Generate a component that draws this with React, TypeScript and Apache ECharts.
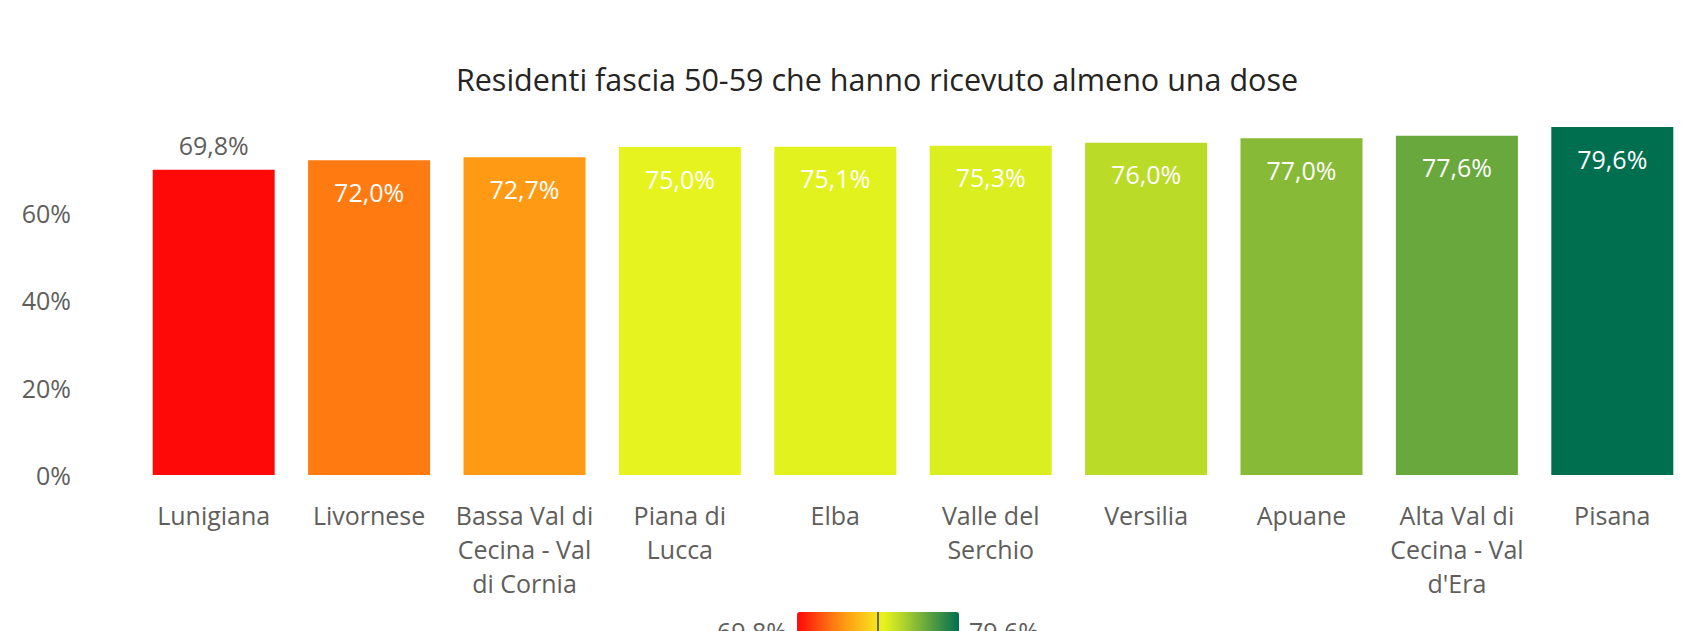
import React, { useEffect, useRef } from "react";
import * as echarts from "echarts";

const TITLE = "Residenti fascia 50-59 che hanno ricevuto almeno una dose";
const categories = [
  "Lunigiana",
  "Livornese",
  "Bassa Val di\nCecina - Val\ndi Cornia",
  "Piana di\nLucca",
  "Elba",
  "Valle del\nSerchio",
  "Versilia",
  "Apuane",
  "Alta Val di\nCecina - Val\nd'Era",
  "Pisana",
];
const values = [69.8, 72.0, 72.7, 75.0, 75.1, 75.3, 76.0, 77.0, 77.6, 79.6];
const yTicks = [0, 20, 40, 60];

// colour anchors (value -> colour)
const colorAnchors: [number, string][] = [
  [69.8, "#FF0808"],
  [72.0, "#FF7A10"],
  [72.7, "#FF9A14"],
  [74.6, "#F6E21B"],
  [75.0, "#E8F51E"],
  [75.1, "#E2F21F"],
  [75.3, "#DAEE20"],
  [76.0, "#BADB28"],
  [77.0, "#87BA37"],
  [77.6, "#68A83D"],
  [79.6, "#006F50"],
];

const FONT = "'Segoe UI', 'Open Sans', sans-serif";
const fmt = (v: number) => v.toFixed(1).replace(".", ",") + "%";

function hexToRgb(h: string) {
  const n = parseInt(h.slice(1), 16);
  return [(n >> 16) & 255, (n >> 8) & 255, n & 255];
}
function colorAt(v: number) {
  for (let i = 0; i < colorAnchors.length - 1; i++) {
    const [v0, c0] = colorAnchors[i];
    const [v1, c1] = colorAnchors[i + 1];
    if (v <= v1 || i === colorAnchors.length - 2) {
      const t = Math.max(0, Math.min(1, (v - v0) / (v1 - v0)));
      const a = hexToRgb(c0);
      const b = hexToRgb(c1);
      const r = a.map((x, k) => Math.round(x + (b[k] - x) * t));
      return `rgb(${r[0]},${r[1]},${r[2]})`;
    }
  }
  return colorAnchors[0][1];
}

export default function App() {
  const ref = useRef<HTMLDivElement>(null);
  useEffect(() => {
    document.body.style.margin = "0";
    document.body.style.overflow = "hidden";
    if (!ref.current) return;
    const chart = echarts.init(ref.current, null, { renderer: "svg" });
    const vmin = Math.min(...values);
    const vmax = Math.max(...values);
    const steps = 60;
    const stops: string[] = [];
    for (let i = 0; i <= steps; i++) stops.push(colorAt(vmin + ((vmax - vmin) * i) / steps));

    chart.setOption({
      animation: false,
      textStyle: { fontFamily: FONT },
      title: {
        text: TITLE,
        left: 872,
        top: 55,
        textAlign: "center",
        textStyle: {
          fontFamily: FONT,
          fontSize: 30.5,
          fontWeight: "normal",
          color: "#252423",
          lineHeight: 38,
        },
      },
      grid: { left: 136, right: 0, top: 127, bottom: 156, containLabel: false },
      xAxis: {
        type: "category",
        data: categories,
        axisLine: { show: false },
        axisTick: { show: false },
        axisLabel: {
          color: "#605E5C",
          fontFamily: FONT,
          fontSize: 25,
          lineHeight: 34,
          margin: 23,
          interval: 0,
        },
      },
      yAxis: {
        type: "value",
        min: 0,
        max: vmax,
        interval: 20,
        axisLine: { show: false },
        axisTick: { show: false },
        splitLine: { show: false },
        axisLabel: {
          color: "#605E5C",
          fontFamily: FONT,
          fontSize: 25,
          margin: 65,
          showMaxLabel: false,
          formatter: (v: number) => (yTicks.includes(v) ? v + "%" : ""),
        },
      },
      visualMap: {
        type: "continuous",
        min: vmin,
        max: vmax,
        orient: "horizontal",
        left: 702,
        top: 597,
        itemWidth: 37,
        itemHeight: 162,
        calculable: false,
        text: [fmt(vmax), fmt(vmin)],
        textGap: 10,
        textStyle: { color: "#605E5C", fontFamily: FONT, fontSize: 25 },
        inRange: { color: stops },
        seriesIndex: 0,
      },
      graphic: [
        {
          type: "line",
          shape: { x1: 878, y1: 612, x2: 878, y2: 640 },
          style: { stroke: "#666666", lineWidth: 2 },
          z: 100,
        },
      ],
      series: [
        {
          type: "bar",
          barWidth: 122,
          data: values.map((v) => ({
            value: v,
            label:
              v < 70
                ? { position: "top", distance: 12, color: "#605E5C" }
                : { position: "insideTop", distance: 19, color: "#FFFFFF" },
          })),
          label: {
            show: true,
            fontFamily: FONT,
            fontSize: 25,
            formatter: (p: any) => fmt(p.value),
          },
        },
      ],
    });
    return () => chart.dispose();
  }, []);
  return <div ref={ref} style={{ width: 1690, height: 631 }} />;
}
